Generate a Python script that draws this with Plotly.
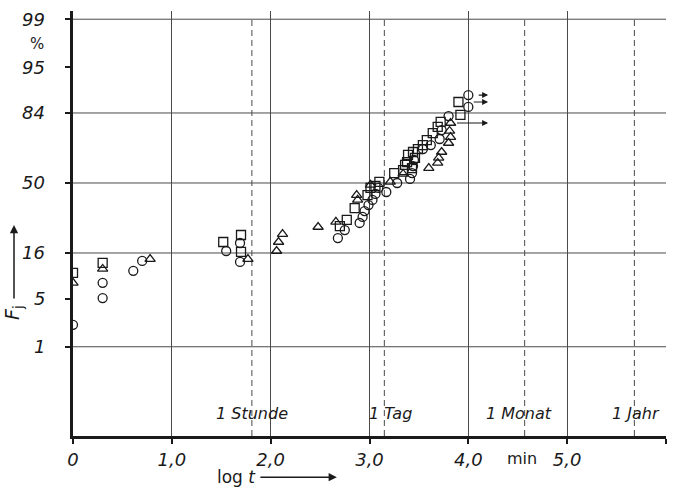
import statistics
import plotly.graph_objects as go

# ---------------- data ----------------
circle_logt = [0.00, 0.30, 0.30, 0.61, 0.70, 1.55, 1.69, 1.69, 2.68, 2.75, 2.90, 2.93, 2.95, 2.99, 3.03,
               3.06, 3.09, 3.17, 3.28, 3.41, 3.43, 3.44, 3.45, 3.54, 3.62, 3.71, 3.73, 3.80, 4.00, 4.00]
circle_F = [2.2, 7.8, 5.1, 10.6, 13.4, 16.7, 19.7, 13.1, 21.7, 25.2, 28.5, 31.5, 34.5, 37.7, 40.5,
            43.8, 47.2, 44.9, 50.0, 52.3, 55.6, 59.5, 62.8, 68.5, 70.5, 73.4, 77.4, 82.9, 86.0, 89.4]

square_logt = [0.00, 0.30, 1.52, 1.70, 1.70, 2.70, 2.77, 2.85, 2.98, 3.01, 3.06, 3.10, 3.25, 3.34, 3.36,
               3.38, 3.39, 3.43, 3.44, 3.46, 3.49, 3.54, 3.58, 3.64, 3.69, 3.72, 3.92, 3.90]
square_F = [10.1, 12.8, 20.1, 23.0, 16.4, 27.0, 30.0, 36.1, 43.2, 47.2, 48.3, 50.6, 55.6, 57.3, 60.1,
            61.7, 65.5, 58.4, 67.0, 63.9, 68.5, 70.5, 72.9, 76.1, 78.7, 80.7, 83.3, 87.5]

triangle_logt = [0.00, 0.30, 0.78, 1.77, 2.06, 2.08, 2.12, 2.48, 2.66, 2.87, 2.88, 3.01, 3.21, 3.34,
                 3.60, 3.69, 3.70, 3.73, 3.80, 3.82, 3.81, 3.82]
triangle_F = [7.8, 11.1, 14.0, 14.0, 16.7, 20.1, 23.4, 26.6, 29.0, 43.2, 40.5, 48.9, 50.6, 55.1,
              58.4, 61.2, 63.9, 67.0, 71.5, 74.3, 77.0, 80.3]

# censored points (marked with arrows): F values of the last points of each series
arrow_F = [89.4, 87.5, 80.3]
arrow_start = [4.09, 4.04, 3.87]
arrow_end = 4.20

y_ticks_pct = [1, 5, 16, 50, 84, 95, 99]
y_grid_pct = [1, 16, 50, 84, 99]
x_ticks = [0, 1, 2, 3, 4, 5, 6]
x_ticktext = ["0", "1,0", "2,0", "3,0", "4,0", "5,0", ""]

event_labels = ["1 Stunde", "1 Tag", "1 Monat", "1 Jahr"]
event_logt = [1.81, 3.15, 4.57, 5.68]
event_label_shift = [0, 6, -6, 2]

# ---------------- helpers ----------------
nd = statistics.NormalDist()


def probit(p):
    return nd.inv_cdf(p / 100.0)


Y_MIN, Y_MAX = -3.594, 2.443
INK = "#1a1a1a"
GRID = "#4a4a4a"
FONT = "DejaVu Sans"

fig = go.Figure()

marker_common = dict(size=9, color=INK, line=dict(color=INK, width=1.3))
fig.add_trace(go.Scatter(x=circle_logt, y=[probit(v) for v in circle_F], mode="markers",
                         marker=dict(symbol="circle-open", **marker_common), name="○"))
fig.add_trace(go.Scatter(x=square_logt, y=[probit(v) for v in square_F], mode="markers",
                         marker=dict(symbol="square-open", **marker_common), name="□"))
fig.add_trace(go.Scatter(x=triangle_logt, y=[probit(v) for v in triangle_F], mode="markers",
                         marker=dict(symbol="triangle-up-open", **marker_common), name="△"))

shapes = []
# horizontal probability grid lines
for p in y_grid_pct:
    shapes.append(dict(type="line", xref="paper", yref="y", x0=0, x1=1, y0=probit(p), y1=probit(p),
                       line=dict(color=GRID, width=1), layer="below"))
# dashed time-marker lines
for xv in event_logt:
    shapes.append(dict(type="line", xref="x", yref="paper", x0=xv, x1=xv, y0=0, y1=0.985,
                       line=dict(color=GRID, width=1, dash="6px,4px"), layer="below"))

annotations = []
# y tick labels
for p in y_ticks_pct:
    annotations.append(dict(x=-0.044, xref="paper", y=probit(p), yref="y", text=f"<i>{p}</i>",
                            showarrow=False, xanchor="right", yanchor="middle",
                            font=dict(family=FONT, size=18, color=INK)))
annotations.append(dict(x=-0.061, xref="paper", y=(436 - 44) / 425, yref="paper", text="%",
                        showarrow=False, xanchor="center", yanchor="middle",
                        font=dict(family=FONT, size=15, color=INK)))
# event labels
for lab, xv, sh in zip(event_labels, event_logt, event_label_shift):
    annotations.append(dict(x=xv, xref="x", y=0.054, yref="paper", text=f"<i>{lab}</i>",
                            showarrow=False, xanchor="center", yanchor="middle", xshift=sh,
                            font=dict(family=FONT, size=16, color=INK)))
# censoring arrows
for fv, xs in zip(arrow_F, arrow_start):
    annotations.append(dict(x=arrow_end, y=probit(fv), xref="x", yref="y",
                            ax=xs, ay=probit(fv), axref="x", ayref="y", text="",
                            showarrow=True, arrowhead=2, arrowsize=1.0, arrowwidth=1.2,
                            arrowcolor=INK))
# x axis caption and unit
annotations.append(dict(x=4.54, xref="x", y=-0.052, yref="paper", text="min", showarrow=False,
                        xanchor="center", yanchor="middle", font=dict(family=FONT, size=16, color=INK)))
annotations.append(dict(x=1.65, xref="x", y=-0.097, yref="paper", text="log <i>t</i>", showarrow=False,
                        xanchor="center", yanchor="middle", font=dict(family=FONT, size=17, color=INK)))
annotations.append(dict(x=2.67, xref="x", y=-0.097, yref="paper", text="", showarrow=True,
                        ax=-78, ay=0, arrowhead=2, arrowsize=1.1, arrowwidth=1.5, arrowcolor=INK))
# y axis caption with arrow
annotations.append(dict(x=-0.0995, xref="paper", y=0.292, yref="paper", text="<i>F</i><sub>j</sub>",
                        textangle=-90, showarrow=False, xanchor="center", yanchor="middle",
                        font=dict(family=FONT, size=19, color=INK)))
annotations.append(dict(x=-0.0995, xref="paper", y=0.4965, yref="paper", text="", showarrow=True,
                        ax=0, ay=75, arrowhead=2, arrowsize=1.1, arrowwidth=1.5, arrowcolor=INK))

fig.update_layout(
    width=675, height=489,
    margin=dict(l=73, r=9, t=11, b=53, autoexpand=False),
    paper_bgcolor="white", plot_bgcolor="white",
    showlegend=False,
    shapes=shapes, annotations=annotations,
    font=dict(family=FONT, color=INK),
    xaxis=dict(range=[0, 6], tickvals=x_ticks, ticktext=[f"<i>{t}</i>" for t in x_ticktext],
               showgrid=True, gridcolor=GRID, gridwidth=1, zeroline=False, automargin=False,
               showline=True, linecolor=INK, linewidth=3, ticks="outside", ticklen=5,
               tickwidth=2, tickcolor=INK, tickfont=dict(family=FONT, size=18, color=INK)),
    yaxis=dict(range=[Y_MIN, Y_MAX], tickvals=[probit(p) for p in y_ticks_pct], ticktext=[""] * 7,
               showgrid=False, zeroline=False, showline=True, linecolor=INK, linewidth=3,
               automargin=False, ticks="outside", ticklen=5, tickwidth=2, tickcolor=INK),
)

fig.write_html("out.html", config={"displayModeBar": False},
               post_script="document.body.style.margin='0px';")
